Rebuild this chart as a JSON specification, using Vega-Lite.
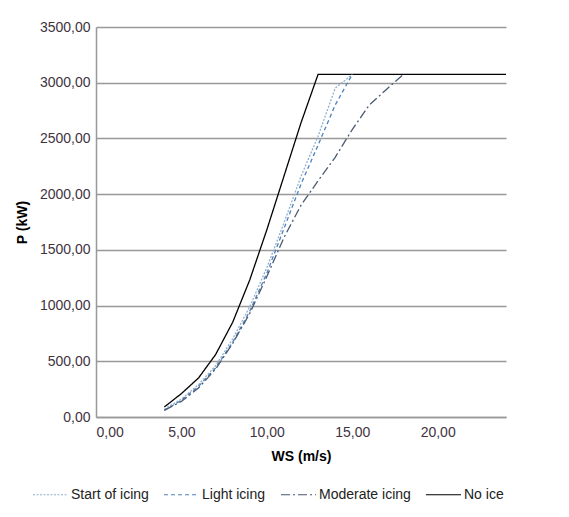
{
  "$schema": "https://vega.github.io/schema/vega-lite/v6.json",
  "width": 410,
  "height": 390,
  "autosize": {"type": "none"},
  "padding": {"left": 96, "top": 27, "right": 63, "bottom": 100},
  "background": "white",
  "config": {
    "view": {"stroke": null},
    "font": "Liberation Sans",
    "axis": {"labelFont": "Liberation Sans", "titleFont": "Liberation Sans"},
    "legend": {"labelFont": "Liberation Sans"}
  },
  "data": {
    "values": [
      {"ws": 4, "p": 90, "series": "No ice"},
      {"ws": 5, "p": 210, "series": "No ice"},
      {"ws": 6, "p": 350, "series": "No ice"},
      {"ws": 7, "p": 560, "series": "No ice"},
      {"ws": 8, "p": 850, "series": "No ice"},
      {"ws": 9, "p": 1230, "series": "No ice"},
      {"ws": 10, "p": 1680, "series": "No ice"},
      {"ws": 11, "p": 2160, "series": "No ice"},
      {"ws": 12, "p": 2640, "series": "No ice"},
      {"ws": 13, "p": 3075, "series": "No ice"},
      {"ws": 14, "p": 3075, "series": "No ice"},
      {"ws": 15, "p": 3075, "series": "No ice"},
      {"ws": 16, "p": 3075, "series": "No ice"},
      {"ws": 17, "p": 3075, "series": "No ice"},
      {"ws": 18, "p": 3075, "series": "No ice"},
      {"ws": 19, "p": 3075, "series": "No ice"},
      {"ws": 20, "p": 3075, "series": "No ice"},
      {"ws": 21, "p": 3075, "series": "No ice"},
      {"ws": 22, "p": 3075, "series": "No ice"},
      {"ws": 23, "p": 3075, "series": "No ice"},
      {"ws": 24, "p": 3075, "series": "No ice"},
      {"ws": 4, "p": 70, "series": "Start of icing"},
      {"ws": 5, "p": 160, "series": "Start of icing"},
      {"ws": 6, "p": 290, "series": "Start of icing"},
      {"ws": 7, "p": 460, "series": "Start of icing"},
      {"ws": 8, "p": 700, "series": "Start of icing"},
      {"ws": 9, "p": 990, "series": "Start of icing"},
      {"ws": 10, "p": 1340, "series": "Start of icing"},
      {"ws": 11, "p": 1740, "series": "Start of icing"},
      {"ws": 12, "p": 2160, "series": "Start of icing"},
      {"ws": 13, "p": 2520, "series": "Start of icing"},
      {"ws": 14, "p": 2950, "series": "Start of icing"},
      {"ws": 15, "p": 3075, "series": "Start of icing"},
      {"ws": 4, "p": 60, "series": "Light icing"},
      {"ws": 5, "p": 150, "series": "Light icing"},
      {"ws": 6, "p": 275, "series": "Light icing"},
      {"ws": 7, "p": 440, "series": "Light icing"},
      {"ws": 8, "p": 670, "series": "Light icing"},
      {"ws": 9, "p": 950, "series": "Light icing"},
      {"ws": 10, "p": 1290, "series": "Light icing"},
      {"ws": 11, "p": 1690, "series": "Light icing"},
      {"ws": 12, "p": 2090, "series": "Light icing"},
      {"ws": 13, "p": 2440, "series": "Light icing"},
      {"ws": 14, "p": 2800, "series": "Light icing"},
      {"ws": 15, "p": 3075, "series": "Light icing"},
      {"ws": 4, "p": 60, "series": "Moderate icing"},
      {"ws": 5, "p": 140, "series": "Moderate icing"},
      {"ws": 6, "p": 260, "series": "Moderate icing"},
      {"ws": 7, "p": 430, "series": "Moderate icing"},
      {"ws": 8, "p": 660, "series": "Moderate icing"},
      {"ws": 9, "p": 930, "series": "Moderate icing"},
      {"ws": 10, "p": 1260, "series": "Moderate icing"},
      {"ws": 11, "p": 1610, "series": "Moderate icing"},
      {"ws": 12, "p": 1900, "series": "Moderate icing"},
      {"ws": 13, "p": 2120, "series": "Moderate icing"},
      {"ws": 14, "p": 2330, "series": "Moderate icing"},
      {"ws": 15, "p": 2580, "series": "Moderate icing"},
      {"ws": 16, "p": 2800, "series": "Moderate icing"},
      {"ws": 17, "p": 2940, "series": "Moderate icing"},
      {"ws": 18, "p": 3075, "series": "Moderate icing"}
    ]
  },
  "mark": {"type": "line", "strokeWidth": 1.3, "clip": true},
  "encoding": {
    "x": {
      "field": "ws", "type": "quantitative",
      "scale": {"domain": [0, 24], "nice": false},
      "axis": {
        "title": "WS (m/s)", "titleFontSize": 14, "titleFontWeight": "bold", "titleColor": "#000",
        "titlePadding": 10,
        "values": [0, 5, 10, 15, 20], "grid": false, "ticks": false,
        "labelExpr": "replace(format(datum.value, '.2f'), '.', ',')",
        "labelFontSize": 14, "labelColor": "#3f3340", "labelPadding": 8,
        "domainColor": "#999", "domainWidth": 1.5
      }
    },
    "y": {
      "field": "p", "type": "quantitative",
      "scale": {"domain": [0, 3500], "nice": false},
      "axis": {
        "title": "P (kW)", "titleFontSize": 14, "titleFontWeight": "bold", "titleColor": "#000",
        "titlePadding": 10,
        "values": [0, 500, 1000, 1500, 2000, 2500, 3000, 3500], "grid": true,
        "gridColor": "#999", "gridWidth": 1.3, "ticks": false,
        "labelExpr": "replace(format(datum.value, '.2f'), '.', ',')",
        "labelFontSize": 14, "labelColor": "#3f3340", "labelPadding": 6,
        "domainColor": "#999", "domainWidth": 1.5
      }
    },
    "color": {
      "field": "series", "type": "nominal",
      "scale": {
        "domain": ["Start of icing", "Light icing", "Moderate icing", "No ice"],
        "range": ["#8fb0cc", "#4f81bd", "#4a5a70", "#000000"]
      },
      "legend": {
        "title": null, "orient": "none", "direction": "horizontal",
        "legendX": -64, "legendY": 449,
        "symbolType": "stroke", "symbolSize": 1225, "symbolStrokeWidth": 1.2,
        "labelFontSize": 14, "labelColor": "#222", "columnPadding": 12, "labelOffset": 2
      }
    },
    "strokeDash": {
      "field": "series", "type": "nominal",
      "scale": {
        "domain": ["Start of icing", "Light icing", "Moderate icing", "No ice"],
        "range": [[2, 1.5], [4, 3], [9, 3, 2, 3], [1, 0]]
      },
      "legend": null
    }
  }
}
